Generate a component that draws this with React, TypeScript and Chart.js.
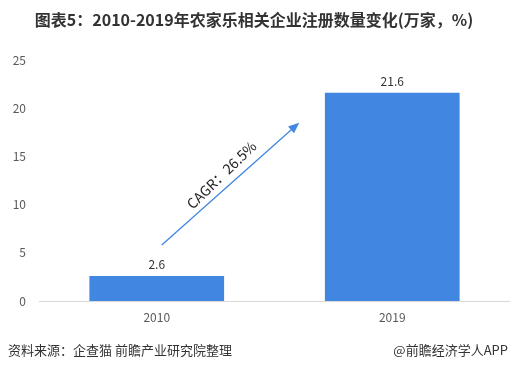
import React, { useEffect, useRef } from "react";
import { Chart, registerables } from "chart.js";

Chart.register(...registerables);

const categories = ["2010", "2019"];
const values = [2.6, 21.6];
const yTicks = [0, 5, 10, 15, 20, 25];
const titleText = "图表5：2010-2019年农家乐相关企业注册数量变化(万家，%)";
const sourceText = "资料来源：企查猫 前瞻产业研究院整理";
const brandText = "@前瞻经济学人APP";
const cagrText = "CAGR：26.5%";

const BAR = "#4186E0";
const FONT = "'Noto Sans CJK SC', 'Noto Sans', sans-serif";

const decorPlugin = {
  id: "decor",
  afterDatasetsDraw(chart: any) {
    const { ctx, chartArea, scales } = chart;
    const xs = scales.x;
    const ys = scales.y;
    ctx.save();
    // value labels
    ctx.fillStyle = "#333333";
    ctx.font = `12px ${FONT}`;
    ctx.textAlign = "center";
    ctx.textBaseline = "bottom";
    const meta = chart.getDatasetMeta(0);
    meta.data.forEach((bar: any, i: number) => {
      ctx.fillText(String(values[i]), bar.x, bar.y - 5);
    });
    // arrow
    const x0 = xs.getPixelForValue(0) + 5;
    const y0 = ys.getPixelForValue(5.8);
    const x1 = xs.getPixelForValue(1) - 93;
    const y1 = ys.getPixelForValue(18.5);
    const ang = Math.atan2(y1 - y0, x1 - x0);
    ctx.strokeStyle = BAR;
    ctx.fillStyle = BAR;
    ctx.lineWidth = 1.3;
    ctx.beginPath();
    ctx.moveTo(x0, y0);
    ctx.lineTo(x1 - 8 * Math.cos(ang), y1 - 8 * Math.sin(ang));
    ctx.stroke();
    ctx.beginPath();
    ctx.moveTo(x1, y1);
    ctx.lineTo(x1 - 11 * Math.cos(ang) + 4.5 * Math.sin(ang), y1 - 11 * Math.sin(ang) - 4.5 * Math.cos(ang));
    ctx.lineTo(x1 - 11 * Math.cos(ang) - 4.5 * Math.sin(ang), y1 - 11 * Math.sin(ang) + 4.5 * Math.cos(ang));
    ctx.closePath();
    ctx.fill();
    // CAGR text
    const mx = (x0 + x1) / 2;
    const my = (y0 + y1) / 2;
    ctx.save();
    ctx.translate(mx - 9, my - 9);
    ctx.rotate(-Math.PI / 4.1);
    ctx.fillStyle = "#222222";
    ctx.font = `14px ${FONT}`;
    ctx.textAlign = "center";
    ctx.textBaseline = "middle";
    ctx.fillText(cagrText, 0, 0);
    ctx.restore();
    ctx.restore();
  },
  afterDraw(chart: any) {
    const { ctx, width } = chart;
    ctx.save();
    ctx.fillStyle = "#333333";
    ctx.font = `bold 16px ${FONT}`;
    ctx.textAlign = "center";
    ctx.textBaseline = "middle";
    ctx.fillText(titleText, 254, 20);
    ctx.font = `13px ${FONT}`;
    ctx.textAlign = "left";
    ctx.fillText(sourceText, 8, 350);
    ctx.textAlign = "right";
    ctx.fillText(brandText, width - 2, 350);
    ctx.restore();
  },
};

export default function App() {
  const ref = useRef<HTMLCanvasElement>(null);
  useEffect(() => {
    document.body.style.margin = "0";
    const chart = new Chart(ref.current!, {
      type: "bar",
      data: {
        labels: categories,
        datasets: [
          {
            data: values,
            backgroundColor: BAR,
            barPercentage: 0.572,
            categoryPercentage: 1,
          },
        ],
      },
      options: {
        animation: false,
        responsive: false,
        layout: { padding: { left: 8, right: 0, top: 60, bottom: 40 } },
        plugins: { legend: { display: false }, tooltip: { enabled: false }, title: { display: false } },
        scales: {
          x: {
            grid: { display: false, drawTicks: false },
            border: { display: true, color: "#D9D9D9", width: 1 },
            ticks: { color: "#595959", font: { size: 12, family: FONT }, padding: 9 },
            afterFit: (s: any) => { s.height = 30; },
          },
          y: {
            min: 0,
            max: 25,
            afterBuildTicks: (s: any) => { s.ticks = yTicks.map((v) => ({ value: v })); },
            grid: { display: false, drawTicks: false },
            border: { display: false },
            ticks: { color: "#595959", font: { size: 12, family: FONT }, padding: 13 },
            afterFit: (s: any) => { s.width = 31; },
          },
        },
      },
      plugins: [decorPlugin],
    });
    return () => chart.destroy();
  }, []);
  return (
    <div style={{ position: "absolute", left: 0, top: 0, width: 510, height: 371, background: "#fff" }}>
      <canvas ref={ref} width={510} height={371} />
    </div>
  );
}
